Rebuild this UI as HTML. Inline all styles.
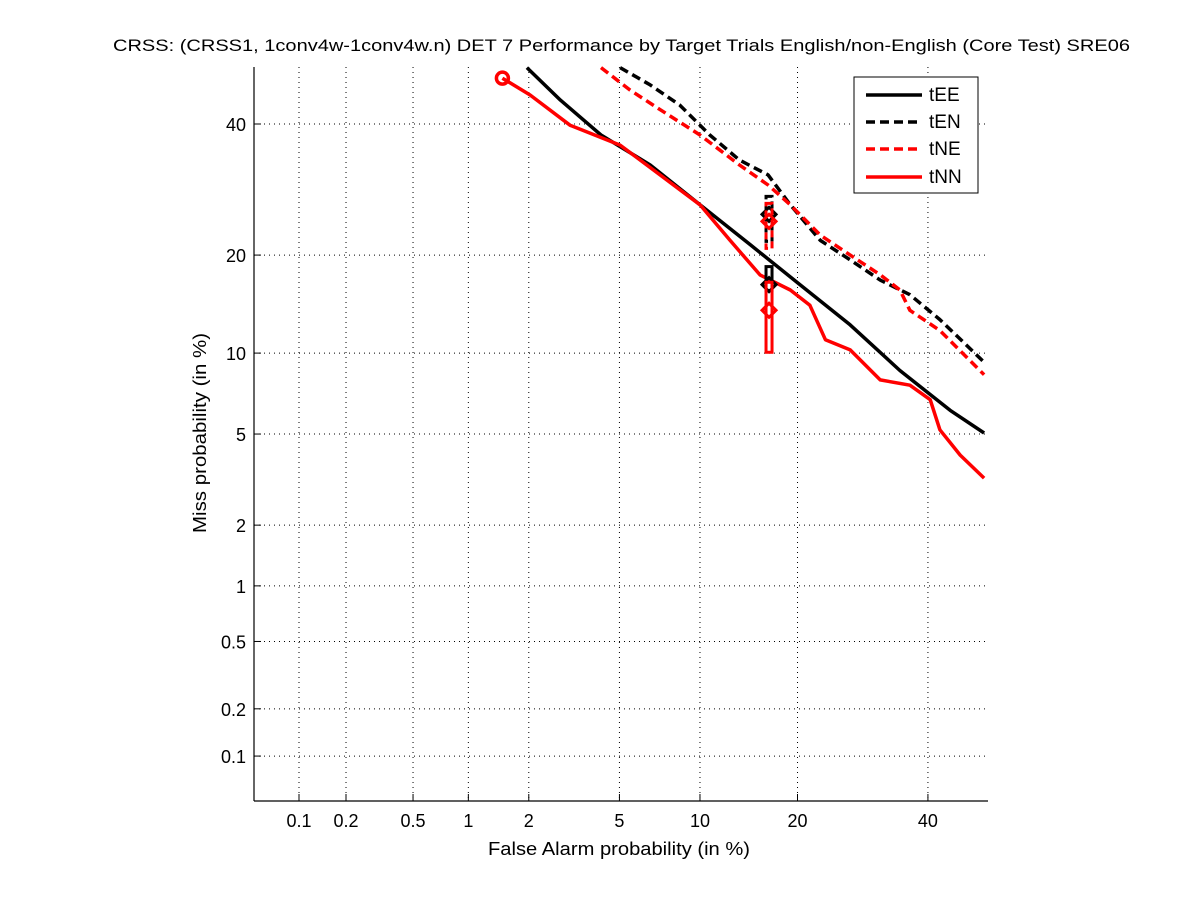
<!DOCTYPE html>
<html><head><meta charset="utf-8"><style>
body{margin:0;background:#fff;}
svg{display:block;font-family:"Liberation Sans",sans-serif;}
</style></head><body>
<svg id="chart" width="1201" height="900" viewBox="0 0 1201 900">
<rect width="1201" height="900" fill="#fff"/>
<text x="113" y="51" font-size="17" textLength="1017" lengthAdjust="spacingAndGlyphs">CRSS: (CRSS1, 1conv4w-1conv4w.n) DET 7 Performance by Target Trials English/non-English (Core Test) SRE06</text>
<g id="grid"></g>
<g id="axes"></g>
<g id="series"></g>
<text x="619" y="855" font-size="18" text-anchor="middle" textLength="262" lengthAdjust="spacingAndGlyphs">False Alarm probability (in %)</text>
<text transform="translate(206,433) rotate(-90)" font-size="18" text-anchor="middle" textLength="200" lengthAdjust="spacingAndGlyphs">Miss probability (in %)</text>
<g>
<rect x="854" y="77" width="124" height="116" fill="#fff" stroke="#000" stroke-width="1"/>
<line x1="866" y1="95" x2="922" y2="95" stroke="#000" stroke-width="3.5"/>
<text x="929" y="101" font-size="19">tEE</text>
<line x1="866" y1="122" x2="922" y2="122" stroke="#000" stroke-width="3.5" stroke-dasharray="9,5"/>
<text x="929" y="128" font-size="19">tEN</text>
<line x1="866" y1="149" x2="922" y2="149" stroke="#f00" stroke-width="3.5" stroke-dasharray="9,5"/>
<text x="929" y="155" font-size="19">tNE</text>
<line x1="866" y1="177" x2="922" y2="177" stroke="#f00" stroke-width="3.5"/>
<text x="929" y="183" font-size="19">tNN</text>
</g>
</svg>
<script>
const xTicks=[0.1,0.2,0.5,1,2,5,10,20,40];
const yTicks=[0.1,0.2,0.5,1,2,5,10,20,40];
const tEE_fa=[1.96,2.8,4.2,6.6,10,14.6,20.3,27.3,35.2,43.9,50];
const tEE_miss=[50,44.2,38.1,33.1,26.9,21.3,16.5,12.4,8.7,6.2,5.05];
const tEN_fa=[5.03,6.6,8.5,10.8,13.5,16.5,19.1,23,27.3,32,36.9,42.1,50];
const tEN_miss=[50,46.9,43.3,38.1,33.9,31.5,26.9,21.9,19.4,17.0,15.4,12.9,9.3];
const tNE_fa=[4.2,5.5,7.2,10,13.5,16.5,19.1,23,27.3,32,35.2,36.9,42.1,50];
const tNE_miss=[50,46,42.5,38.1,33.1,29.9,26.9,22.6,20,17.6,15.9,13.8,11.9,8.4];
const tNN_fa=[1.49,2.03,3.09,5.03,7.19,10,12.6,15.6,19.1,21.6,23.7,27.3,31.96,36.9,40.4,42.1,45.7,50];
const tNN_miss=[48.1,45.1,39.8,36.4,31.5,26.9,21.9,17.6,15.9,14.3,11.1,10.25,8.05,7.7,6.8,5.2,4.1,3.27];
const dcf_fa=[16.6,16.6,16.6,16.6];
const dcf_miss=[16.5,25.5,24.5,13.8];

function probit(p){
 const a=[-39.69683028665376,220.9460984245205,-275.9285104469687,138.357751867269,-30.66479806614716,2.506628277459239];
 const b=[-54.47609879822406,161.5858368580409,-155.6989798598866,66.80131188771972,-13.28068155288572];
 const c=[-0.007784894002430293,-0.3223964580411365,-2.400758277161838,-2.549732539343734,4.374664141464968,2.938163982698783];
 const d=[0.007784695709041462,0.3224671290700398,2.445134137142996,3.754408661907416];
 const pl=0.02425;let q,r;
 if(p<pl){q=Math.sqrt(-2*Math.log(p));return (((((c[0]*q+c[1])*q+c[2])*q+c[3])*q+c[4])*q+c[5])/((((d[0]*q+d[1])*q+d[2])*q+d[3])*q+1);}
 if(p>1-pl){q=Math.sqrt(-2*Math.log(1-p));return -(((((c[0]*q+c[1])*q+c[2])*q+c[3])*q+c[4])*q+c[5])/((((d[0]*q+d[1])*q+d[2])*q+d[3])*q+1);}
 q=p-0.5;r=q*q;return (((((a[0]*r+a[1])*r+a[2])*r+a[3])*r+a[4])*r+a[5])*q/(((((b[0]*r+b[1])*r+b[2])*r+b[3])*r+b[4])*r+1);
}
const L=254,R=988,T=67,B=801;
function xs(v){return Math.min(R,299+(probit(v/100)+3.0902)*221.7);}
function ys(v){return Math.max(T,124-(probit(v/100)+0.2533)*222.8);}
const NS='http://www.w3.org/2000/svg';
function mk(tag,attrs,parent){const e=document.createElementNS(NS,tag);for(const k in attrs)e.setAttribute(k,attrs[k]);parent.appendChild(e);return e;}
const grid=document.getElementById('grid'),axes=document.getElementById('axes'),ser=document.getElementById('series');
xTicks.forEach(t=>{const x=xs(t);
 const g=mk('line',{x1:x,x2:x,y1:T,y2:B,stroke:'#000','stroke-width':1,'stroke-dasharray':'1,4'},grid);
 
 mk('line',{x1:x,x2:x,y1:B,y2:B-7,stroke:'#000'},axes);
 const tx=mk('text',{x:x,y:B+26,'font-size':18,'text-anchor':'middle'},axes);tx.textContent=t;
 });
yTicks.forEach(t=>{const y=ys(t);
 const g=mk('line',{x1:L,x2:R,y1:y,y2:y,stroke:'#000','stroke-width':1,'stroke-dasharray':'1,4'},grid);
 
 mk('line',{x1:L,x2:L+7,y1:y,y2:y,stroke:'#000'},axes);
 const tx=mk('text',{x:L-8,y:y+7,'font-size':18,'text-anchor':'end'},axes);tx.textContent=t;
 });
mk('line',{x1:L,x2:L,y1:T,y2:B,stroke:'#000','stroke-width':1.2},axes);
mk('line',{x1:L,x2:R,y1:B,y2:B,stroke:'#000','stroke-width':1.2},axes);
function line(fa,miss,color,dash,name){
 const pts=fa.map((f,i)=>xs(f).toFixed(1)+','+ys(miss[i]).toFixed(1)).join(' ');
 const p=mk('polyline',{points:pts,fill:'none',stroke:color,'stroke-width':3.5,'stroke-linejoin':'round'},ser);
 if(dash)p.setAttribute('stroke-dasharray','9,5');
 }
line(tEE_fa,tEE_miss,'#000',false,'series-tEE');
line(tEN_fa,tEN_miss,'#000',true,'series-tEN');
line(tNE_fa,tNE_miss,'#f00',true,'series-tNE');
line(tNN_fa,tNN_miss,'#f00',false,'series-tNN');
const cols=['#000','#000','#f00','#f00'],dashes=[false,true,true,false],names=['tEE','tEN','tNE','tNN'];
dcf_fa.forEach((f,i)=>{const x=xs(f),y=ys(dcf_miss[i]);
 const r=mk('rect',{x:x-3,y:y-18+(i==3?-10:0),width:6,height:(i==3?70:i==0?24:45),fill:'none',stroke:cols[i],'stroke-width':3},ser);
 if(dashes[i])r.setAttribute('stroke-dasharray','7,4');
 
 const m=mk('path',{d:`M${x-7},${y} L${x},${y-7} L${x+7},${y} L${x},${y+7} Z`,fill:'none',stroke:cols[i],'stroke-width':3},ser);
 });
const c=mk('circle',{cx:xs(tNN_fa[0]),cy:ys(tNN_miss[0]),r:6,fill:'none',stroke:'#f00','stroke-width':3.5},ser);

</script>
</body></html>
